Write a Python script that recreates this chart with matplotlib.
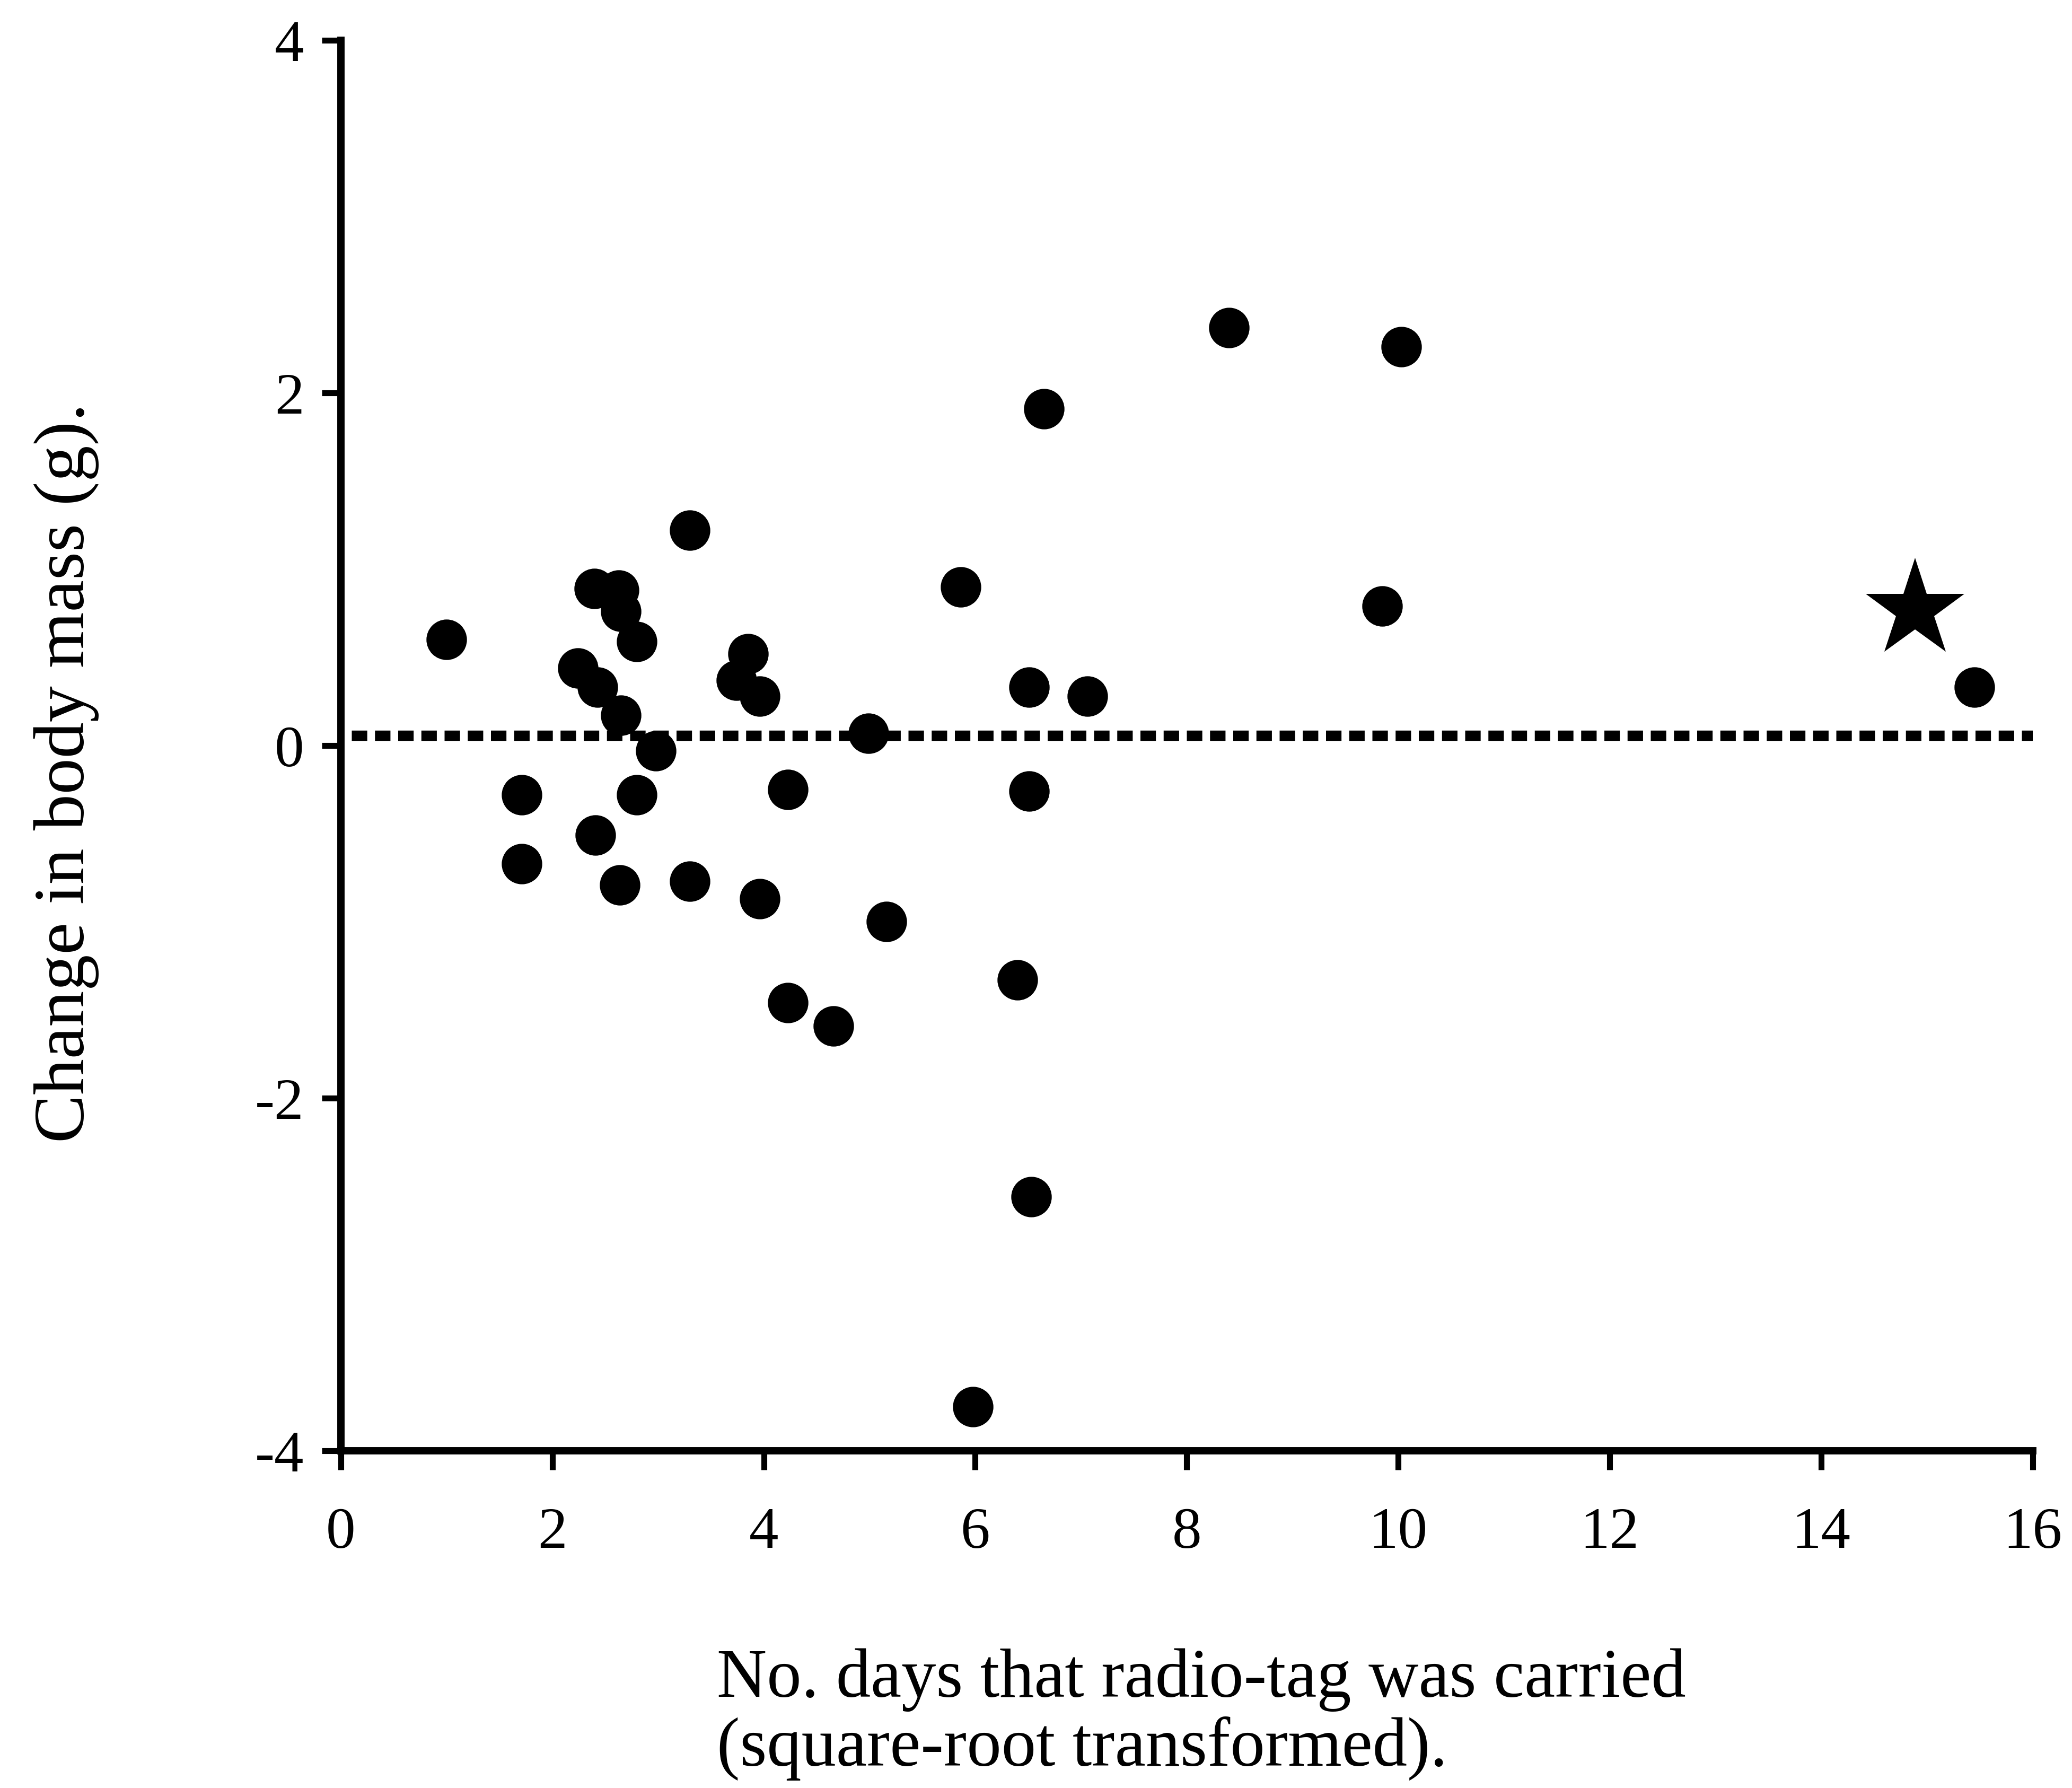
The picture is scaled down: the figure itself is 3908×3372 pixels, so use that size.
import numpy as np
import matplotlib
matplotlib.use('Agg')
import matplotlib.pyplot as plt

# ---------------------------DATA------------------------------------#
# sqrt(days radio-tag carried) and change in body mass (g)
days_sqrt = [1.00, 1.71, 1.71, 2.24, 2.40, 2.43, 2.41, 2.63, 2.65, 2.65,
             2.64, 2.80, 2.80, 2.98, 3.30, 3.30, 3.74, 3.85, 3.96, 3.96,
             4.23, 4.23, 4.66, 4.99, 5.16, 5.86, 5.98, 6.40, 6.51, 6.51,
             6.53, 6.65, 7.06, 8.40, 9.85, 10.03, 15.45]
mass_change = [0.60, -0.28, -0.67, 0.44, 0.89, 0.33, -0.51, 0.88, 0.76, 0.17,
               -0.79, 0.59, -0.28, -0.03, 1.22, -0.77, 0.37, 0.52, 0.28, -0.87,
               -0.25, -1.46, -1.59, 0.07, -1.00, 0.90, -3.75, -1.33, 0.33, -0.26,
               -2.56, 1.91, 0.28, 2.37, 0.79, 2.26, 0.33]

# the starred bird
star_x = [14.89]
star_y = [0.77]

# mean change line
mean_level = 0.057
line_x = [0.1, 16]

xticks = [0, 2, 4, 6, 8, 10, 12, 14, 16]
yticks = [-4, -2, 0, 2, 4]
ytick_labels = ['-4', '-2', '0', '2', '4']

plt.rcParams['font.family'] = ['Liberation Serif', 'DejaVu Serif']

f = plt.figure(figsize=(39.08, 33.73), dpi=100)
ax = f.add_axes([0.1645, 0.1886, 0.8165, 0.7886])

ax.plot(line_x, [mean_level, mean_level], color='black', lw=14,
        linestyle=(0, (1.5, 0.75)), dash_capstyle='butt', zorder=1)
ax.plot(days_sqrt, mass_change, 'o', color='black', markersize=55,
        markeredgewidth=0, zorder=3)
ax.plot(star_x, star_y, '*', color='black', markersize=141,
        markeredgewidth=0, zorder=3)

ax.set_xlim(0, 16)
ax.set_ylim(-4, 4)
ax.set_xticks(xticks)
ax.set_yticks(yticks)
ax.set_yticklabels(ytick_labels)

for s in ['top', 'right']:
    ax.spines[s].set_visible(False)
for s in ['left', 'bottom']:
    ax.spines[s].set_linewidth(10)
ax.tick_params(axis='both', direction='out', length=26, width=8, labelsize=80)
ax.tick_params(axis='x', pad=50)
ax.tick_params(axis='y', pad=24)

f.text(0.346, 0.0414, 'No. days that radio-tag was carried\n(square-root transformed).',
       fontsize=94, ha='left', va='center', linespacing=1.1)
f.text(0.032, 0.568, 'Change in body mass (g).', fontsize=98, rotation=90,
       ha='center', va='center')

plt.savefig('out.png', dpi=100)
plt.close()
